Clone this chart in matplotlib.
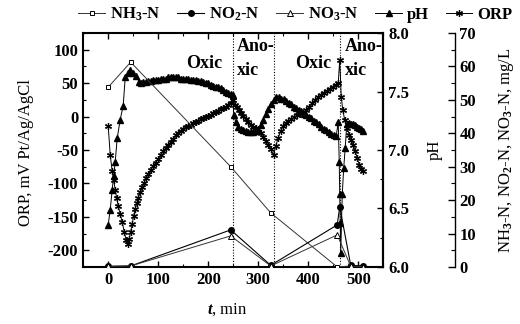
import matplotlib
matplotlib.use('Agg')
from matplotlib import pyplot as plt

plt.rcParams['font.family'] = 'Liberation Serif'
plt.rcParams['font.weight'] = 'bold'
plt.rcParams['axes.unicode_minus'] = False
plt.rcParams['mathtext.fontset'] = 'custom'
plt.rcParams['mathtext.rm'] = 'Liberation Serif:bold'
plt.rcParams['mathtext.bf'] = 'Liberation Serif:bold'
plt.rcParams['mathtext.it'] = 'Liberation Serif:italic:bold'
plt.rcParams['mathtext.default'] = 'bf'

# ORP, mV (asterisks)
orp_t = [0, 4, 8, 11, 14, 17, 20, 24, 28, 32, 36, 39, 42, 45, 48, 51, 54, 57, 60, 64,
         68, 72, 76, 80, 85, 90, 95, 100, 105, 110, 115, 120, 125, 130, 135, 140, 145, 150,
         155, 160, 165, 170, 175, 180, 185, 190, 195, 200, 205, 210, 215, 220, 225, 230,
         235, 240, 245, 249,
         253, 257, 261, 265, 270, 275, 280, 285, 290, 295, 300, 305, 310, 315, 320, 325, 331,
         335, 340, 345, 350, 355, 360, 366, 372, 378, 384, 390, 396, 402, 408, 414, 420,
         426, 432, 438, 444, 450, 456, 460, 463,
         466, 469, 473, 478, 482, 486, 490, 494, 498, 502, 506, 510]
orp = [-14, -57, -82, -95, -110, -122, -134, -146, -158, -172, -185, -190, -183, -172, -160,
       -148, -138, -130, -122, -113, -106, -99, -92, -86, -80, -74, -69, -63, -57, -52, -47,
       -43, -38, -33, -28, -24, -21, -18, -16, -14, -12, -10, -8, -6, -4, -2, 0, 1, 3, 5, 7,
       9, 11, 13, 15, 18, 21, 25,
       18, 14, 10, 6, 1, -4, -8, -12, -15, -17, -19, -25, -31, -37, -43, -49, -57,
       -44, -32, -21, -14, -10, -7, -4, -1, 2, 4, 6, 10, 15, 20, 25, 29,
       33, 36, 39, 42, 45, 48, 50, 85,
       30, 10, -5, -17, -27, -35, -42, -52, -62, -72, -78, -82]

# pH (filled triangles)
ph_t = [0, 4, 8, 11, 14, 18, 24, 30, 34, 39, 44, 50, 56, 62, 66, 70, 75, 80, 85, 90, 95,
        100, 105, 110, 115, 120, 125, 130, 135, 140, 145, 150, 155, 160, 165, 170, 175, 180,
        185, 190, 195, 200, 205, 210, 215, 220, 225, 230, 235, 240, 245, 249,
        251, 255, 260, 265, 270, 275, 280, 285, 290, 295, 300, 305, 310, 315, 320, 325, 331,
        336, 341, 346, 351, 356, 361, 366, 371, 376, 381, 386, 391, 396, 401, 406, 411,
        416, 421, 426, 431, 436, 441, 446, 451, 456,
        460, 462, 463, 464, 465, 468, 471, 474, 477, 481, 485, 489, 493, 497, 501, 505, 510]
ph = [6.36, 6.49, 6.66, 6.78, 6.90, 7.10, 7.26, 7.38, 7.62, 7.66, 7.68, 7.66, 7.63, 7.58,
      7.57, 7.58, 7.58, 7.59, 7.59, 7.60, 7.60, 7.60, 7.61, 7.61, 7.61, 7.62, 7.62, 7.62,
      7.62, 7.62, 7.61, 7.61, 7.61, 7.61, 7.60, 7.60, 7.60, 7.59, 7.59, 7.58, 7.57, 7.57,
      7.56, 7.55, 7.54, 7.54, 7.53, 7.51, 7.50, 7.49, 7.48, 7.47,
      7.30, 7.24, 7.20, 7.18, 7.17, 7.16, 7.15, 7.15, 7.15, 7.16, 7.17, 7.21, 7.26, 7.31,
      7.35, 7.39, 7.43,
      7.45, 7.45, 7.44, 7.44, 7.42, 7.40, 7.39, 7.37, 7.36, 7.34, 7.33, 7.31, 7.30, 7.28,
      7.27, 7.25, 7.24, 7.22, 7.20, 7.18, 7.17, 7.15, 7.14, 7.13, 7.12,
      7.24, 6.90, 6.62, 6.38, 6.12, 6.62, 6.85, 7.02, 7.22, 7.23, 7.22, 7.22, 7.21, 7.20,
      7.19, 7.18, 7.16]

# nitrogen species, mg/L
n_t = [0, 45, 245, 325, 458, 485, 510]
nh3 = [53.8, 61.3, 30.0, 16.2, 0.0, 0.3, 0.2]
no3 = [0.2, 0.3, 9.3, 0.3, 9.6, 0.2, 0.1]
no2_t = [0, 45, 245, 325, 458, 463, 485, 510]
no2 = [0.2, 0.3, 11.1, 0.5, 12.6, 18.0, 0.5, 0.3]

phase_t = [249, 331, 463]
phase_names = ['Oxic', 'Ano-\nxic', 'Oxic', 'Ano-\nxic']
phase_x = [191, 258, 410, 474]

fig = plt.figure(figsize=(5.2, 3.24), dpi=100)
ax = fig.add_axes([0.160, 0.176, 0.577, 0.722])
ax2 = ax.twinx()
ax3 = ax.twinx()
ax3.spines['right'].set_position(('axes', 1.24))

ast = (6, 2, 0)
l_orp, = ax.plot(orp_t, orp, color='black', lw=0.7, marker=ast, ms=5, mew=0.9)
l_ph, = ax2.plot(ph_t, ph, color='black', lw=0.7, marker='^', ms=4.5)
l_nh3, = ax3.plot(n_t, nh3, color='#333333', lw=0.7, marker='s', ms=3.5, mfc='white', mec='black', mew=0.7)
l_no2, = ax3.plot(no2_t, no2, color='black', lw=0.8, marker='o', ms=4)
l_no3, = ax3.plot(n_t, no3, color='#333333', lw=0.7, marker='^', ms=4, mfc='white', mec='black', mew=0.7)

for t in phase_t:
    ax.axvline(t, color='black', lw=0.8, ls=(0, (1, 1.5)))

ax.text(phase_x[0], 80, phase_names[0], ha='center', va='center', fontsize=13)
ax.text(phase_x[1], 87, phase_names[1], ha='left', va='center', fontsize=13, linespacing=1.5)
ax.text(phase_x[2], 80, phase_names[2], ha='center', va='center', fontsize=13)
ax.text(phase_x[3], 87, phase_names[3], ha='left', va='center', fontsize=13, linespacing=1.5)

ax.set_xlim(-50, 550)
ax.set_ylim(-225, 125)
ax2.set_ylim(6.0, 8.0)
ax3.set_ylim(0, 70)

ax.set_xticks([0, 100, 200, 300, 400, 500])
ax.set_xticks(range(-50, 551, 50), minor=True)
ax.set_yticks([-200, -150, -100, -50, 0, 50, 100])
ax.set_yticks(range(-225, 126, 25), minor=True)
ax2.set_yticks([6.0, 6.5, 7.0, 7.5, 8.0])
ax2.set_yticks([6.25, 6.75, 7.25, 7.75], minor=True)
ax2.set_yticklabels(['6.0', '6.5', '7.0', '7.5', '8.0'])
ax3.set_yticks(range(0, 71, 10))
ax3.set_yticks(range(5, 70, 10), minor=True)

ax.tick_params(axis='both', which='both', direction='in', labelsize=12, top=True)
ax.tick_params(which='major', length=4, width=1)
ax.tick_params(which='minor', length=2, width=0.8)
ax2.tick_params(which='both', direction='in', labelsize=12)
ax2.tick_params(which='major', length=4, width=1)
ax2.tick_params(which='minor', length=2, width=0.8)
ax3.tick_params(which='both', direction='in', labelsize=12, pad=3)
ax3.tick_params(which='major', length=5, width=1)
ax3.tick_params(which='minor', length=3, width=0.8)

for a in (ax, ax2, ax3):
    for s in a.spines.values():
        s.set_linewidth(1.5)
ax3.spines['left'].set_visible(False)
ax3.spines['top'].set_visible(False)
ax3.spines['bottom'].set_visible(False)
ax3.spines['right'].set_linewidth(1.0)
ax2.spines['left'].set_visible(False)
ax2.spines['top'].set_visible(False)
ax2.spines['bottom'].set_visible(False)

ax.set_xlabel(r'$\mathit{t}$, min', fontsize=12)
ax.xaxis.set_label_coords(0.48, -0.145)
ax.set_ylabel('ORP, mV Pt/Ag/AgCl', fontsize=12)
ax.yaxis.set_label_coords(-0.165, 0.49)
ax2.set_ylabel('pH', fontsize=12)
ax2.yaxis.set_label_coords(1.145, 0.5)
ax3.set_ylabel(r'NH$_3$-N, NO$_2$-N, NO$_3$-N, mg/L', fontsize=12)
ax3.yaxis.set_label_coords(1.38, 0.5)

handles = [l_nh3, l_no2, l_no3, l_ph, l_orp]
labels = [r'NH$_3$-N', r'NO$_2$-N', r'NO$_3$-N', 'pH', 'ORP']
fig.legend(handles, labels, loc='center', bbox_to_anchor=(0.568, 0.955), ncol=5,
           frameon=False, fontsize=12, columnspacing=1.0, handlelength=1.6,
           handletextpad=0.3, borderaxespad=0)

fig.savefig('out.png', dpi=100)
